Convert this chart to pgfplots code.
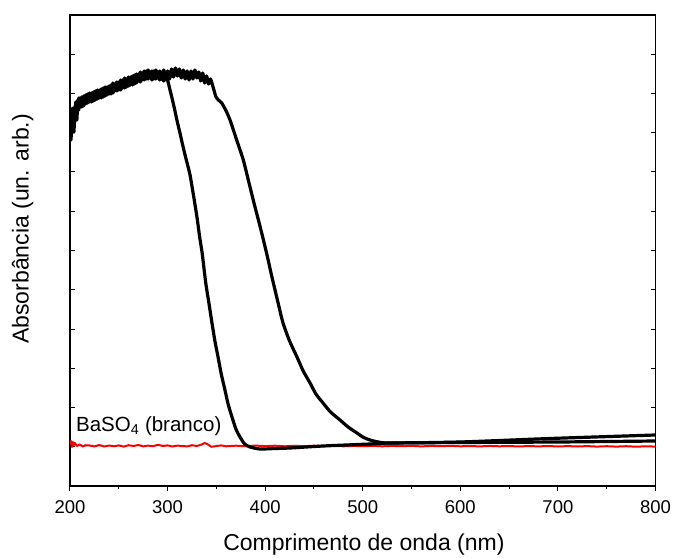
\documentclass[border=0pt]{standalone}
\usepackage{fontspec}
\setmainfont{Liberation Sans}
\usepackage{pgfplots}
\pgfplotsset{compat=1.18}
\begin{document}
\begin{tikzpicture}
\useasboundingbox (-70pt,-71pt) rectangle (604pt,486pt);
\begin{axis}[
  at={(0pt,0pt)}, anchor=south west,
  width=585.5pt, height=471pt, scale only axis,
  xmin=200, xmax=800, ymin=0, ymax=471,
  xtick={200,300,400,500,600,700,800},
  minor xtick={250,350,450,550,650,750},
  ytick={0,39.25,78.5,117.75,157,196.25,235.5,274.75,314,353.25,392.5,431.75,471},
  yticklabels={},
  xtick pos=left, ytick pos=both,
  xtick align=outside, ytick align=inside,
  major tick length=5pt, minor tick length=3pt,
  every tick/.style={black, line width=1pt},
  axis line style={line width=1.2pt},
  /pgf/number format/assume math mode=true,
  tick label style={font=\fontsize{18.5}{20}\selectfont},
  xticklabel style={yshift=-6pt},
  xlabel={Comprimento de onda (nm)},
  ylabel={Absorbância (un. arb.)},
  every axis x label/.style={at={(axis description cs:0.502,-0.1253)}, anchor=center, font=\fontsize{23}{25}\selectfont},
  every axis y label/.style={at={(axis description cs:-0.081,0.546)}, rotate=90, anchor=center, font=\fontsize{23}{25}\selectfont},
  clip=true,
]
% Red BaSO4 reference
\addplot[red, line width=2pt, line join=round] coordinates {
(200,42) (201,45) (202,39) (203,44) (204,41) (205,43) (207,40) (210,41.5) (213,39.5) (216,40.8) (220,40.5) (225,39.6) (230,41) (235,39.5) (240,40.5) (245,39.8) (250,40.6) (255,39.4) (260,40.8) (265,40) (270,41) (275,39.6) (280,40.4) (285,39.8) (290,41.2) (295,40) (300,40.6) (305,39.5) (310,40.4) (315,40) (320,39.6) (325,40.8) (330,40) (335,41.5) (338,43) (341,41.8) (345,39.2) (350,40) (355,40.6) (360,39.7) (370,40.3) (380,39.8) (390,40.4) (400,39.9) (410,40.3) (420,39.7) (430,40.2) (440,39.8) (450,40.3) (460,39.9) (470,40.2) (480,39.7) (490,40.1) (500,39.8) (510,40.2) (520,39.7) (530,40.1) (540,39.8) (550,40.2) (560,39.6) (570,40.1) (580,39.8) (590,40.2) (600,39.7) (610,40) (620,39.6) (630,40.1) (640,39.7) (650,40) (660,39.5) (670,40) (680,39.6) (690,40) (700,39.5) (710,39.9) (720,39.5) (730,39.9) (740,39.4) (750,39.8) (760,39.4) (770,39.8) (780,39.3) (790,39.7) (800,39.4)
};
% Sample A (edge ~340 nm)
\addplot[black, line width=3.2pt, line join=round, smooth, tension=0.4] coordinates {
(200,350) (201,368) (202,376) (203,360) (204,354) (205,374) (206,382) (207,366) (208,386) (209,376) (210,388) (212,379) (214,390) (216,382) (218,392) (220,384) (222,393) (224,385) (226,395) (228,387) (230,396) (232,388) (234,398) (236,390) (238,399) (240,392) (242,401) (244,393) (246,402) (248,395) (250,404) (252,396) (254,406) (256,398) (258,407) (260,400) (262,409) (264,401) (266,411) (268,403) (270,412) (272,404) (274,413) (276,406) (278,415) (280,407) (282,414) (284,406) (286,415) (288,407) (290,414) (292,406) (294,412) (296,405) (298,410) (299.4,408)
(302.5,396) (305,386) (307.6,375) (310,364) (312.7,353) (315,343) (317.9,331) (320,323) (323,311) (326.5,291) (330.1,269) (333,248) (335.3,234) (337.5,216) (339.4,201) (342.5,182) (345.5,163) (348.5,145) (351.7,129) (355,112) (358.8,96) (362,82) (366,69) (370,57) (374.2,49) (379,42) (384.5,39) (394.7,37) (410,37.5) (425.5,38) (459.3,40) (507.4,42) (528,43) (600,43.5) (700,44) (800,45)
};
% Sample B (edge ~420 nm)
\addplot[black, line width=3.2pt, line join=round, smooth, tension=0.4] coordinates {
(200,362) (201,346) (202,370) (203,378) (204,362) (205,368) (206,384) (207,372) (208,377) (209,388) (210,379) (212,389) (214,380) (216,391) (218,383) (220,393) (222,384) (224,394) (226,386) (228,396) (230,388) (232,397) (234,389) (236,399) (238,391) (240,400) (242,392) (244,403) (246,395) (248,404) (250,396) (252,406) (254,398) (256,408) (258,399) (260,409) (262,401) (264,410) (266,402) (268,412) (270,405) (272,414) (274,406) (276,415) (278,407) (280,416) (282,408) (284,415) (286,407) (288,416) (290,408) (292,415) (294,407) (296,416) (298,408) (300,415) (302,407) (304,417) (306,409) (308,418) (310,410) (312,417) (314,408) (316,416) (318,407) (320,415) (322,406) (324,415) (326,407) (328,416) (330,408) (332,414) (334,405) (336,413) (338,403) (340,410) (342,402) (344,407) (346.9,398)
(349.6,389) (352,386) (355.5,383) (360,375) (364,366) (370.8,346) (377.6,326) (382.7,306) (389.6,279) (395.7,256) (401.9,231) (406,213) (410.1,196) (414,180) (418.3,163) (425,145) (432.6,129) (439,115) (446,103) (452,92) (459.3,83) (467,74) (476.7,66) (485,59) (494.1,53) (500,49) (507.4,46) (516,44) (528,43) (599.7,44) (691.9,47.5) (800,51)
};
\node[anchor=base west, inner sep=0pt, font=\fontsize{20.5}{22}\selectfont] at (axis cs:206.1,54.3) {BaSO\textsubscript{4} (branco)};
\end{axis}
\end{tikzpicture}
\end{document}
